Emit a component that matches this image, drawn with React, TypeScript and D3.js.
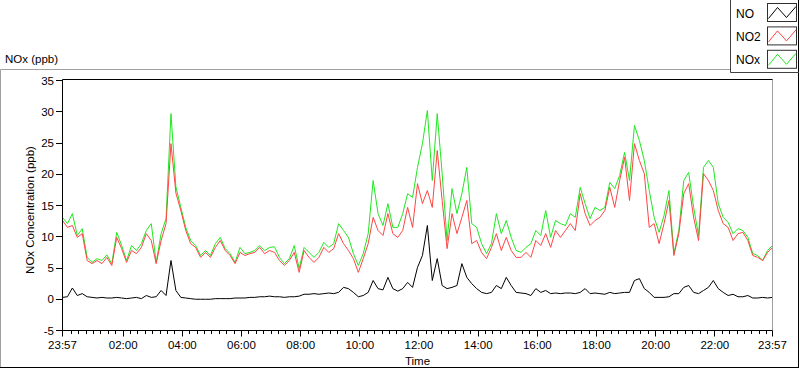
import React from "react";
import * as d3 from "d3";

// time axis: samples every 10 minutes starting at 23:57, running 24 h
const START_LABEL = "23:57";
const STEP_MINUTES = 10;
const X_TICK_LABELS = ["23:57", "02:00", "04:00", "06:00", "08:00", "10:00", "12:00", "14:00", "16:00", "18:00", "20:00", "22:00", "23:57"];
const Y_TICKS = [-5, 0, 5, 10, 15, 20, 25, 30, 35];

const NO_VALUES = [
  0.3, 0.4, 1.8, 0.6, 0.9, 0.4, 0.3, 0.2, 0.3, 0.2,
  0.2, 0.3, 0.2, 0.1, 0.2, 0.3, 0.1, 0.6, 0.3, 0.4,
  1.4, 0.6, 6.2, 1.4, 0.3, 0.2, 0.1, 0.0, 0.0, 0.0,
  0.0, 0.1, 0.1, 0.1, 0.1, 0.2, 0.2, 0.2, 0.3, 0.3,
  0.4, 0.4, 0.5, 0.4, 0.4, 0.3, 0.4, 0.4, 0.5, 0.8,
  0.8, 0.9, 0.8, 0.9, 1.0, 0.9, 1.1, 1.9, 1.7, 1.1,
  0.4, 0.6, 1.1, 3.0, 1.7, 1.5, 3.5, 1.7, 1.3, 1.7,
  2.7, 1.9, 5.1, 7.0, 11.8, 3.0, 6.5, 2.2, 1.7, 1.9,
  2.2, 5.7, 3.5, 2.5, 1.7, 1.1, 0.9, 1.1, 2.2, 1.7,
  3.5, 2.2, 1.1, 1.0, 0.9, 0.6, 1.7, 1.1, 1.4, 0.9,
  1.0, 0.9, 1.0, 1.0, 0.9, 1.1, 1.7, 0.9, 1.0, 0.9,
  0.8, 1.1, 0.9, 1.0, 1.1, 1.1, 3.0, 3.3, 1.7, 1.1,
  0.3, 0.3, 0.3, 0.4, 0.9, 0.9, 1.9, 2.2, 1.1, 0.9,
  1.4, 1.9, 3.0, 1.7, 1.1, 0.6, 0.8, 0.4, 0.4, 0.6,
  0.2, 0.2, 0.3, 0.2, 0.3,
];

const NO2_VALUES = [
  12.6, 11.5, 11.8, 9.9, 10.5, 6.2, 5.7, 6.2, 5.7, 6.7,
  5.4, 9.9, 8.1, 5.9, 7.8, 7.3, 8.3, 10.5, 9.4, 5.7,
  9.4, 12.1, 24.9, 17.0, 14.2, 11.0, 8.9, 8.3, 6.7, 7.5,
  6.7, 8.3, 9.4, 7.8, 7.0, 5.7, 7.5, 7.0, 7.3, 7.5,
  8.3, 7.3, 7.8, 7.5, 6.2, 5.4, 6.2, 7.5, 4.3, 7.8,
  6.7, 5.9, 6.7, 8.3, 7.5, 8.1, 10.5, 8.9, 7.8, 6.5,
  4.3, 6.5, 8.9, 13.1, 11.0, 10.2, 13.7, 10.5, 9.9, 11.0,
  14.7, 11.5, 18.5, 15.3, 17.4, 14.7, 23.8, 15.8, 8.1, 13.7,
  10.5, 13.1, 15.8, 8.9, 9.4, 7.5, 6.5, 8.3, 10.5, 7.8,
  9.9, 7.8, 6.7, 6.7, 7.5, 6.7, 9.4, 8.6, 10.5, 8.3,
  11.0, 9.9, 11.0, 12.1, 11.0, 16.9, 13.7, 11.8, 12.6, 13.1,
  14.2, 17.9, 14.7, 19.0, 22.7, 15.8, 24.9, 22.2, 20.1, 11.5,
  12.1, 8.9, 12.1, 15.8, 7.0, 10.5, 16.9, 18.5, 13.1, 9.4,
  20.1, 19.0, 17.4, 14.2, 12.1, 11.5, 9.4, 10.5, 10.7, 9.4,
  7.0, 6.7, 6.2, 7.5, 8.3,
];

const NOX_VALUES = [
  13.1, 12.1, 13.7, 10.2, 11.3, 6.7, 5.9, 6.5, 6.2, 7.1,
  5.7, 10.7, 8.6, 6.2, 8.6, 7.8, 8.9, 11.0, 12.1, 5.9,
  10.5, 12.9, 29.7, 18.0, 14.7, 11.5, 9.4, 8.6, 7.0, 7.8,
  7.0, 8.9, 9.9, 8.1, 7.3, 5.9, 8.3, 7.3, 7.5, 7.8,
  8.6, 7.8, 8.3, 8.4, 6.7, 5.7, 6.5, 8.6, 4.9, 8.3,
  7.5, 6.7, 7.5, 9.1, 8.3, 8.9, 12.1, 11.0, 9.9, 7.3,
  5.4, 7.3, 10.5, 19.0, 13.7, 11.8, 15.3, 11.5, 11.5, 13.7,
  16.9, 16.3, 21.1, 24.9, 30.2, 19.0, 29.7, 20.1, 9.4, 17.7,
  13.7, 16.9, 21.1, 12.1, 11.5, 8.9, 7.3, 8.9, 13.7, 10.5,
  12.6, 9.9, 7.8, 7.5, 8.3, 8.9, 11.0, 10.2, 14.2, 9.9,
  12.6, 12.1, 11.8, 13.7, 13.1, 17.9, 15.3, 12.9, 14.7, 14.2,
  14.7, 18.7, 17.7, 19.8, 23.5, 19.0, 27.8, 25.4, 22.2, 17.4,
  13.1, 10.7, 13.4, 17.4, 7.3, 11.0, 19.0, 20.3, 14.7, 10.2,
  21.1, 22.2, 21.1, 15.3, 13.1, 12.3, 10.5, 11.3, 11.0, 9.9,
  7.3, 7.0, 6.2, 7.8, 8.6,
];

const SERIES = [
  { name: "NOx", values: NOX_VALUES, color: "#1ee81e" },
  { name: "NO2", values: NO2_VALUES, color: "#ff4444" },
  { name: "NO", values: NO_VALUES, color: "#000000" },
];
const LEGEND = [
  { name: "NO", color: "#000000" },
  { name: "NO2", color: "#ff4444" },
  { name: "NOx", color: "#1ee81e" },
];

const FONT = "'Liberation Sans', Arial, sans-serif";

function toMin(label: string) {
  const [h, m] = label.split(":").map(Number);
  return h * 60 + m;
}

export default function App() {
  const W = 800, H = 369;
  const left = 62.5, right = 772.5, top = 79.5, bottom = 330.5;
  const start = toMin(START_LABEL);
  const x = d3.scaleLinear().domain([0, 1440]).range([left, right]);
  const y = d3.scaleLinear().domain([-5, 35]).range([330.5, 80.5]);

  const line = d3
    .line<number>()
    .x((_, i) => x(i * STEP_MINUTES))
    .y((d) => y(d));

  const majorOffsets = X_TICK_LABELS.map((l, i) =>
    i === 0 ? 0 : i === X_TICK_LABELS.length - 1 ? 1440 : (toMin(l) - start + 1440) % 1440
  );
  const minorOffsets: number[] = [];
  for (let m = 0; m <= 1440; m++) {
    if ((start + m) % 15 === 0) {
      const px = x(m);
      if (majorOffsets.every((o) => Math.abs(x(o) - px) > 3)) minorOffsets.push(m);
    }
  }
  const crisp = (v: number) => Math.floor(v) + 0.5;

  return (
    <svg
      width={W}
      height={H}
      style={{ position: "absolute", left: 0, top: 0, background: "#fff" }}
      fontFamily={FONT}
    >
      <rect x={0} y={0} width={W} height={H} fill="#fff" />
      {/* outer frame */}
      <line x1={0.5} y1={69.5} x2={730.5} y2={69.5} stroke="#a0a0a0" />
      <line x1={0.5} y1={69.5} x2={0.5} y2={367.5} stroke="#a0a0a0" />
      <line x1={0} y1={367.5} x2={799} y2={367.5} stroke="#000" />
      <line x1={798.5} y1={0} x2={798.5} y2={368} stroke="#000" />
      <text x={5} y={63} fontSize={11.5} fill="#000">NOx (ppb)</text>

      {/* legend */}
      <line x1={730.5} y1={0} x2={730.5} y2={72.5} stroke="#404040" />
      <line x1={730.5} y1={72.5} x2={799} y2={72.5} stroke="#404040" />
      {LEGEND.map((s, i) => {
        const oy = i * 23.4;
        return (
          <g key={s.name}>
            <text x={736} y={17.5 + oy} fontSize={12} fill="#000">{s.name}</text>
            <rect x={767.5} y={3.5 + oy} width={29} height={18} fill="#fff" stroke="#303030" />
            <polyline
              points={`768.5,18.5 777.5,7.5 786.5,17.5 796,6.5`.split(" ").map((p) => {
                const [a, b] = p.split(",").map(Number);
                return `${a},${b + oy}`;
              }).join(" ")}
              fill="none"
              stroke={s.color}
            />
          </g>
        );
      })}

      {/* plot area */}
      <defs>
        <clipPath id="plotclip">
          <rect x={left} y={top} width={right - left} height={bottom - top + 1} />
        </clipPath>
      </defs>
      <g clipPath="url(#plotclip)">
        {SERIES.map((s) => (
          <path key={s.name} d={line(s.values) || ""} fill="none" stroke={s.color} strokeWidth={1} strokeLinejoin="miter" />
        ))}
      </g>
      <line x1={right} y1={top} x2={right} y2={bottom} stroke="#a0a0a0" />
      <line x1={left} y1={top} x2={right} y2={top} stroke="#000" />
      <line x1={left} y1={top} x2={left} y2={bottom + 1} stroke="#000" />
      <line x1={left} y1={bottom} x2={right} y2={bottom} stroke="#000" />

      {/* y axis */}
      {Y_TICKS.map((t) => (
        <g key={t}>
          <line x1={56} x2={left} y1={crisp(y(t))} y2={crisp(y(t))} stroke="#000" />
          <text x={54} y={y(t)} dy="0.35em" textAnchor="end" fontSize={11.5} fill="#000">{t}</text>
        </g>
      ))}
      <text
        transform={`translate(34,${(top + bottom) / 2 + 5}) rotate(-90)`}
        textAnchor="middle"
        fontSize={11.5}
        fill="#000"
      >
        NOx Concentration (ppb)
      </text>

      {/* x axis */}
      {minorOffsets.map((m) => (
        <line key={"m" + m} x1={crisp(x(m))} x2={crisp(x(m))} y1={bottom} y2={bottom + 3.5} stroke="#000" />
      ))}
      {majorOffsets.map((m, i) => (
        <g key={"M" + i}>
          <line x1={crisp(x(m))} x2={crisp(x(m))} y1={bottom} y2={bottom + 6} stroke="#000" />
          <text x={x(m)} y={349} textAnchor="middle" fontSize={11.5} fill="#000">{X_TICK_LABELS[i]}</text>
        </g>
      ))}
      <text x={(left + right) / 2} y={365} textAnchor="middle" fontSize={11.5} fill="#000">Time</text>
    </svg>
  );
}
